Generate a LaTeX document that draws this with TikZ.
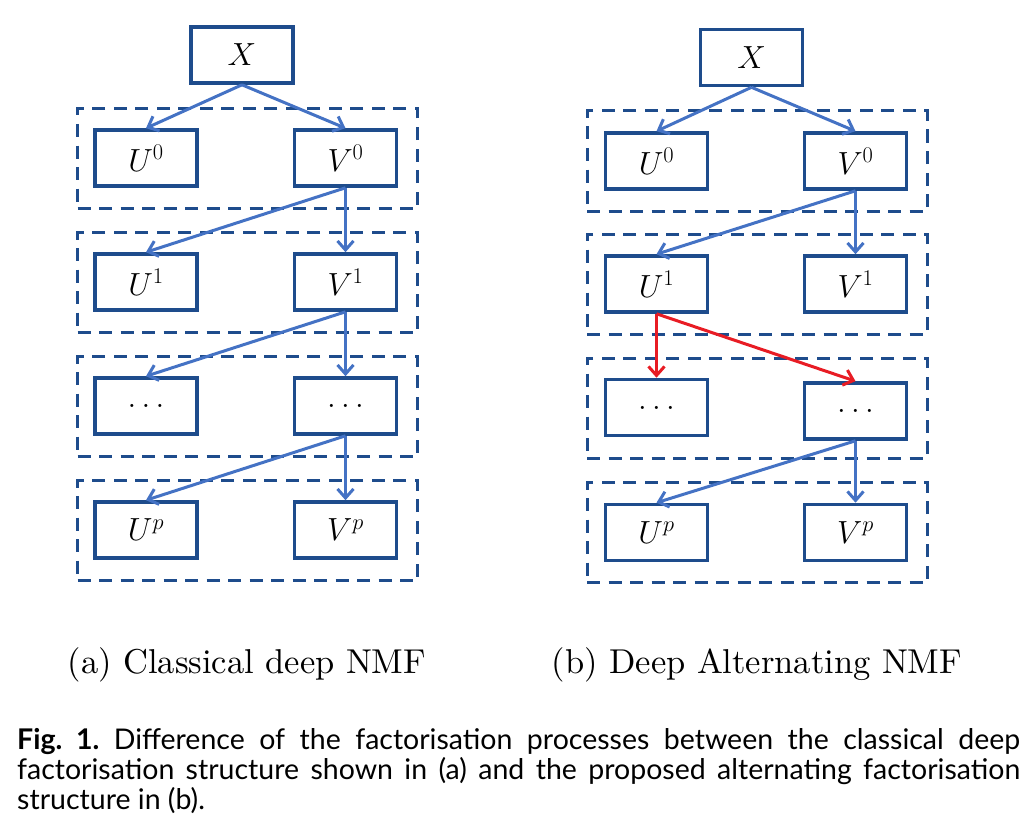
\RequirePackage{fix-cm}
\documentclass[tikz,border=0pt]{standalone}
\usepackage{fontspec}
\usetikzlibrary{arrows.meta}
\newfontfamily\capfont{Lato}
\newfontfamily\subfont{lmroman10-regular.otf}
\definecolor{boxblue}{RGB}{30,76,140}
\definecolor{arrblue}{RGB}{68,114,196}
\definecolor{arrred}{RGB}{232,28,36}
\begin{document}
\begin{tikzpicture}[x=1pt,y=-1pt,
  mbox/.style={draw=boxblue,line width=3.6pt,minimum width=102pt,minimum height=56pt,inner sep=0pt,
    font=\fontsize{32}{36}\selectfont},
  dbox/.style={draw=boxblue,line width=3pt,dash pattern=on 13pt off 8.5pt,minimum width=340pt,minimum height=100pt,inner sep=0pt},
  barrow/.style={draw=arrblue,line width=3pt,-{Straight Barb[length=9pt,width=16pt]}},
  rarrow/.style={draw=arrred,line width=3pt,-{Straight Barb[length=9pt,width=16pt]}},
  subcap/.style={font=\subfont\fontsize{34.5}{40}\selectfont,anchor=base,inner sep=0pt}]
\useasboundingbox (0,0) rectangle (1030,832);
% ---------- left panel ----------
\node[dbox] (LD1) at (247.5,158.5) {};
\node[dbox] (LD2) at (247.5,282.5) {};
\node[dbox] (LD3) at (247.5,406.5) {};
\node[dbox] (LD4) at (247.5,530.5) {};
\node[mbox] (LX) at (242,55) {$X$};
\node[mbox] (LU0) at (146,158) {$U^0$};
\node[mbox] (LV0) at (345.5,158) {$V^0$};
\node[mbox] (LU1) at (146,282) {$U^1$};
\node[mbox] (LV1) at (345.5,282) {$V^1$};
\node[mbox] (LU2) at (146,406) {$\ldots$};
\node[mbox] (LV2) at (345.5,406) {$\ldots$};
\node[mbox] (LUp) at (146,530) {$U^p$};
\node[mbox] (LVp) at (345.5,530) {$V^p$};
\draw[barrow] (LX.south) -- (LU0.north);
\draw[barrow] (LX.south) -- (LV0.north);
\draw[barrow] (LV0.south) -- (LU1.north);
\draw[barrow] (LV0.south) -- (LV1.north);
\draw[barrow] (LV1.south) -- (LU2.north);
\draw[barrow] (LV1.south) -- (LV2.north);
\draw[barrow] (LV2.south) -- (LUp.north);
\draw[barrow] (LV2.south) -- (LVp.north);
\node[subcap] (LCap) at (247,673) {(a) Classical deep NMF};
% ---------- right panel ----------
\node[dbox] (RD1) at (757,161) {};
\node[dbox] (RD2) at (757,284) {};
\node[dbox] (RD3) at (757,408) {};
\node[dbox] (RD4) at (757,532.5) {};
\node[mbox] (RX) at (751.5,57.5) {$X$};
\node[mbox] (RU0) at (656.5,161) {$U^0$};
\node[mbox] (RV0) at (855.5,161) {$V^0$};
\node[mbox] (RU1) at (656.5,284) {$U^1$};
\node[mbox] (RV1) at (855.5,284) {$V^1$};
\node[mbox] (RU2) at (656.5,407.5) {$\ldots$};
\node[mbox] (RV2) at (855.5,411) {$\ldots$};
\node[mbox] (RUp) at (656.5,532.5) {$U^p$};
\node[mbox] (RVp) at (855.5,532.5) {$V^p$};
\draw[barrow] (RX.south) -- (RU0.north);
\draw[barrow] (RX.south) -- (RV0.north);
\draw[barrow] (RV0.south) -- (RU1.north);
\draw[barrow] (RV0.south) -- (RV1.north);
\draw[rarrow] (RU1.south) -- (RU2.north);
\draw[rarrow] (RU1.south) -- (RV2.north);
\draw[barrow] (RV2.south) -- (RUp.north);
\draw[barrow] (RV2.south) -- (RVp.north);
\node[subcap] (RCap) at (757,673) {(b) Deep Alternating NMF};
% ---------- caption ----------
\node[anchor=north west,inner sep=0pt,text width=1003pt,align=justify,
  font=\capfont\fontsize{28.5}{30}\selectfont\frenchspacing] (Cap) at (17,728)
  {\textbf{Fig. 1.} Difference of the factorisation processes between the classical deep\linebreak
   factorisation structure shown in (a) and the proposed alternating factorisation\linebreak
   structure in (b).};
\end{tikzpicture}
\end{document}
